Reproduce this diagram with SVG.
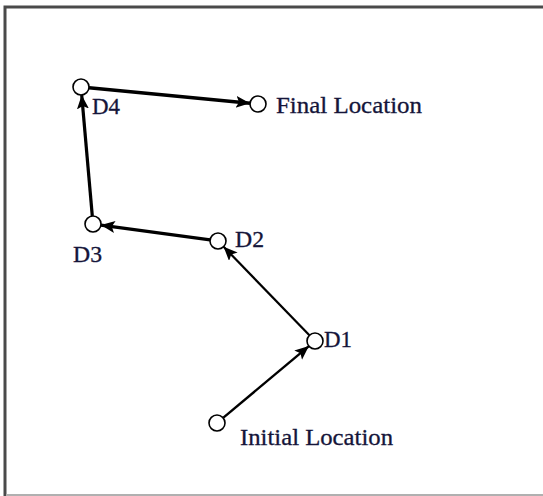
<svg xmlns="http://www.w3.org/2000/svg" width="543" height="496" viewBox="0 0 543 496">
<style>
.node circle{fill:#fff;stroke:#000;stroke-width:1.6}
.lbl{font-family:"Liberation Serif","Times New Roman",serif;font-size:23px;fill:#15153a;stroke:#15153a;stroke-width:0.3}
.edge{stroke:#000;fill:none;marker-end:url(#ah)}
</style>
<defs>
<marker id="ah" markerUnits="userSpaceOnUse" markerWidth="16" markerHeight="14" refX="14" refY="6" orient="auto">
<path d="M0,0 L14,6 L0,12 L3,6 Z" fill="#000"/>
</marker>
</defs>
<rect width="543" height="496" fill="#fff"/>
<g id="frame">
<path d="M5,496 V7 H543" fill="none" stroke="#4a4a4a" stroke-width="3"/>
<path d="M6,495 H543" fill="none" stroke="#b0b0b0" stroke-width="2"/>
</g>
<g id="connectors">
<line class="edge" x1="223.1" y1="417.9" x2="308.9" y2="346.1" stroke-width="2.4"/>
<line class="edge" x1="309.4" y1="335.3" x2="223.6" y2="246.7" stroke-width="2.2"/>
<line class="edge" x1="210.1" y1="239.9" x2="100.9" y2="225.1" stroke-width="3.4"/>
<line class="edge" x1="92.3" y1="216" x2="81.7" y2="95" stroke-width="3.2"/>
<line class="edge" x1="89" y1="87.8" x2="250" y2="103.2" stroke-width="3.6"/>
</g>
<g id="initial" class="node"><circle cx="217" cy="423" r="8"/><text class="lbl" x="240" y="445" textLength="153" lengthAdjust="spacingAndGlyphs">Initial Location</text></g>
<g id="d1" class="node"><circle cx="315" cy="341" r="8"/><text class="lbl" x="324" y="347" textLength="28" lengthAdjust="spacingAndGlyphs">D1</text></g>
<g id="d2" class="node"><circle cx="218" cy="241" r="8"/><text class="lbl" x="235" y="247" textLength="29" lengthAdjust="spacingAndGlyphs">D2</text></g>
<g id="d3" class="node"><circle cx="93" cy="224" r="8"/><text class="lbl" x="73" y="262" textLength="29" lengthAdjust="spacingAndGlyphs">D3</text></g>
<g id="d4" class="node"><circle cx="81" cy="87" r="8"/><text class="lbl" x="92" y="114" textLength="28" lengthAdjust="spacingAndGlyphs">D4</text></g>
<g id="final" class="node"><circle cx="258" cy="104" r="8"/><text class="lbl" x="276" y="113" textLength="146" lengthAdjust="spacingAndGlyphs">Final Location</text></g>
</svg>
